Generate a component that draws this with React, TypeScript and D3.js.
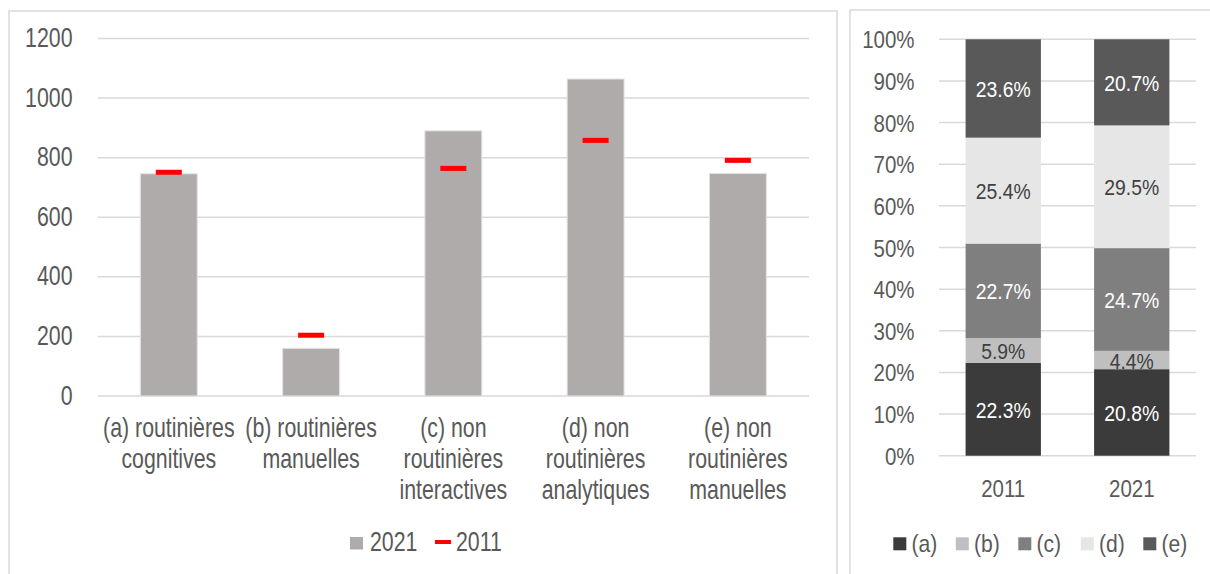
import React from "react";
import * as d3 from "d3";

// Task categories (left panel) and employment levels
const categories: string[][] = [
  ["(a) routinières", "cognitives"],
  ["(b) routinières", "manuelles"],
  ["(c) non", "routinières", "interactives"],
  ["(d) non", "routinières", "analytiques"],
  ["(e) non", "routinières", "manuelles"],
];
const values2021: number[] = [746, 160, 890, 1064, 747];
const values2011: number[] = [751, 204, 764, 858, 791];
const levelTicks: number[] = [0, 200, 400, 600, 800, 1000, 1200];

// Shares by task group (right panel), in percent
const years: string[] = ["2011", "2021"];
const shareKeys: string[] = ["(a)", "(b)", "(c)", "(d)", "(e)"];
const shares2011: number[] = [22.3, 5.9, 22.7, 25.4, 23.6];
const shares2021: number[] = [20.8, 4.4, 24.7, 29.5, 20.7];
const shareTicks: number[] = [0, 0.1, 0.2, 0.3, 0.4, 0.5, 0.6, 0.7, 0.8, 0.9, 1];

const shareColors = ["#3b3b3b", "#bfbfbf", "#7f7f7f", "#e7e6e6", "#595959"];
const shareLabelColors = ["#ffffff", "#404040", "#ffffff", "#404040", "#ffffff"];

const FONT = "'Liberation Sans', Arial, sans-serif";
const GRID = "#d9d9d9";
const TEXT = "#595959";

type TProps = {
  x: number;
  y: number;
  size: number;
  sx: number;
  anchor?: "start" | "middle" | "end";
  fill?: string;
  children: React.ReactNode;
};

// Horizontally condensed text, scaled about its anchor point
function CText({ x, y, size, sx, anchor = "middle", fill = TEXT, children }: TProps) {
  return (
    <text
      transform={`translate(${x},${y}) scale(${sx},1)`}
      textAnchor={anchor}
      fontFamily={FONT}
      fontSize={size}
      fill={fill}
    >
      {children}
    </text>
  );
}

function LevelsChart() {
  const x = d3
    .scaleBand<number>()
    .domain(d3.range(categories.length))
    .range([97.7, 809])
    .paddingInner(0.6)
    .paddingOuter(0.3);
  const y = d3.scaleLinear().domain([0, 1200]).range([396, 38.5]);
  const bw = x.bandwidth();
  const fs = 27;
  const sx = 0.79;

  return (
    <g>
      <rect x={9} y={11} width={828} height={620} fill="#fff" stroke={GRID} strokeWidth={1.5} />
      {levelTicks.map((t) => (
        <g key={t}>
          <line x1={97.7} x2={809} y1={y(t)} y2={y(t)} stroke={GRID} strokeWidth={1.5} />
          <CText x={72.5} y={y(t) + 8.5} size={fs} sx={sx} anchor="end">
            {t}
          </CText>
        </g>
      ))}
      {values2021.map((v, i) => (
        <rect
          key={i}
          x={x(i)!}
          y={y(v)}
          width={bw}
          height={y(0) - y(v)}
          fill="#afabab"
          stroke="#e4e2e2"
          strokeWidth={1}
        />
      ))}
      {values2011.map((v, i) => (
        <rect key={i} x={x(i)! + bw / 2 - 13} y={y(v) - 2.5} width={26} height={5} fill="#ff0000" />
      ))}
      {categories.map((lines, i) =>
        lines.map((ln, j) => (
          <CText key={`${i}-${j}`} x={x(i)! + bw / 2} y={437 + j * 31} size={fs} sx={sx}>
            {ln}
          </CText>
        ))
      )}
      <rect x={350} y={537} width={13} height={12.5} fill="#afabab" />
      <CText x={370} y={550.5} size={fs} sx={sx} anchor="start">
        2021
      </CText>
      <rect x={435} y={540} width={16} height={4} fill="#ff0000" />
      <CText x={456} y={550.5} size={fs} sx={sx} anchor="start">
        2011
      </CText>
    </g>
  );
}

function SharesChart() {
  const x = d3
    .scaleBand<string>()
    .domain(years)
    .range([939, 1196])
    .paddingInner(0.414)
    .paddingOuter(0.207);
  const y = d3.scaleLinear().domain([0, 1]).range([455.7, 39.3]);
  const bw = x.bandwidth();

  const rows = [shares2011, shares2021].map((s, k) => {
    const row: Record<string, number | string> = { year: years[k] };
    const total = d3.sum(s);
    shareKeys.forEach((key, i) => (row[key] = s[i] / total));
    return row;
  });
  const stacked = d3.stack<Record<string, number | string>>().keys(shareKeys)(rows);
  const raw = [shares2011, shares2021];

  return (
    <g>
      <rect x={850} y={10} width={420} height={620} fill="#fff" stroke={GRID} strokeWidth={1.5} />
      {shareTicks.map((t) => (
        <g key={t}>
          <line x1={939} x2={1196} y1={y(t)} y2={y(t)} stroke={GRID} strokeWidth={1.5} />
          <CText x={914.5} y={y(t) + 9} size={23} sx={0.89} anchor="end">
            {`${Math.round(t * 100)}%`}
          </CText>
        </g>
      ))}
      {stacked.map((series, si) =>
        series.map((d, k) => {
          const x0 = x(years[k])!;
          const y0 = y(d[0]);
          const y1 = y(d[1]);
          return (
            <g key={`${si}-${k}`}>
              <rect x={x0} y={y1} width={bw} height={y0 - y1} fill={shareColors[si]} />
              <CText
                x={x0 + bw / 2}
                y={(y0 + y1) / 2 + 8.5}
                size={22}
                sx={0.88}
                fill={shareLabelColors[si]}
              >
                {`${raw[k][si].toFixed(1)}%`}
              </CText>
            </g>
          );
        })
      )}
      {years.map((yr) => (
        <CText key={yr} x={x(yr)! + bw / 2} y={496.7} size={23} sx={0.89}>
          {yr}
        </CText>
      ))}
      {shareKeys.map((key, i) => (
        <g key={key}>
          <rect x={893.3 + i * 62.5} y={537.3} width={13} height={13} fill={shareColors[i]} />
          <CText x={911.5 + i * 62.5} y={551.5} size={24} sx={0.88} anchor="start">
            {key}
          </CText>
        </g>
      ))}
    </g>
  );
}

export default function App() {
  return (
    <svg
      width={1210}
      height={574}
      viewBox="0 0 1210 574"
      style={{ position: "absolute", left: 0, top: 0, background: "#fff" }}
    >
      <rect width={1210} height={574} fill="#fff" />
      <LevelsChart />
      <SharesChart />
    </svg>
  );
}
